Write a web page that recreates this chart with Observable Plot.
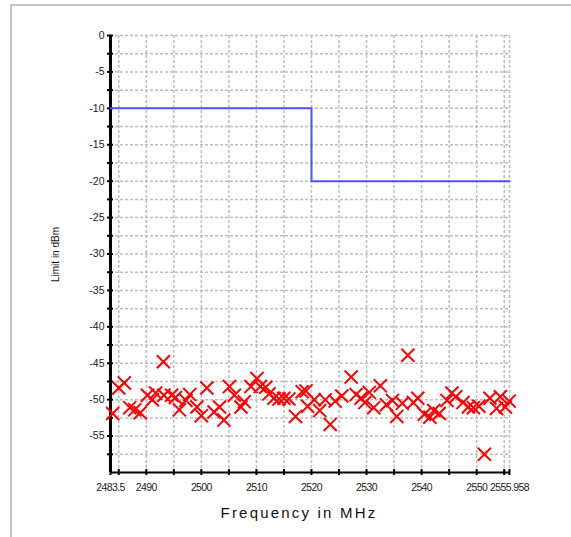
<!DOCTYPE html>
<html>
<head>
<meta charset="utf-8">
<script src="https://cdn.jsdelivr.net/npm/d3@7"></script>
<script src="https://cdn.jsdelivr.net/npm/@observablehq/plot@0.6"></script>
<style>
  html, body { margin: 0; padding: 0; background: #fff; overflow: hidden; }
  #wrap { position: relative; width: 571px; height: 537px; }
  #frame { position: absolute; left: 10px; top: 4px; width: 700px; height: 700px; border: 2px solid #c4c4c4; box-sizing: border-box; }
  #chart { position: absolute; left: 0; top: 0; }
</style>
</head>
<body>
<div id="wrap"><div id="frame"></div><div id="chart"></div></div>
<script>
// Limit line (step)
const limitFreq = [2483.5, 2520, 2555.958];
const limitValue = [-10, -20, -20];

// Measured spurious points
const measFreq = [
  2483.9, 2485.0, 2486.0, 2487.0, 2487.9, 2488.9, 2490.2, 2491.1, 2491.7, 2493.1,
  2493.2, 2494.6, 2495.3, 2496.0, 2497.2, 2497.9, 2499.2, 2500.0, 2501.0, 2502.3,
  2503.3, 2504.1, 2505.1, 2506.0, 2507.2, 2507.8, 2509.0, 2510.1, 2510.7, 2511.7,
  2512.3, 2513.2, 2514.1, 2515.0, 2515.9, 2517.1, 2518.3, 2519.0, 2519.3, 2520.5,
  2521.5, 2522.5, 2523.4, 2524.3, 2525.5, 2527.2, 2528.1, 2529.0, 2529.7, 2530.5,
  2531.3, 2532.5, 2533.6, 2534.7, 2535.5, 2536.5, 2537.5, 2538.5, 2539.3, 2540.5,
  2541.5, 2542.2, 2543.2, 2544.6, 2545.5, 2546.2, 2547.5, 2548.5, 2549.4, 2550.4,
  2551.4, 2552.4, 2553.6, 2554.3, 2555.2, 2555.9
];
const measValue = [
  -51.9, -48.4, -47.7, -51.1, -51.4, -51.8, -49.4, -50.0, -49.1, -44.8,
  -49.4, -49.4, -49.7, -51.4, -50.1, -49.3, -51.0, -52.2, -48.4, -51.7,
  -51.0, -52.8, -48.2, -49.4, -51.0, -50.3, -48.2, -47.1, -48.2, -48.3,
  -49.2, -49.8, -49.9, -49.8, -49.9, -52.3, -48.9, -48.8, -50.9, -50.0,
  -51.5, -50.0, -53.4, -50.2, -49.5, -46.9, -49.3, -49.8, -50.4, -49.0,
  -51.1, -48.1, -50.7, -50.1, -52.3, -50.5, -43.9, -50.4, -49.8, -52.0,
  -52.4, -51.5, -51.9, -50.1, -49.1, -49.6, -50.4, -51.0, -51.1, -50.9,
  -57.5, -49.8, -51.2, -49.6, -51.0, -50.2
];

// Axis ticks
const xTicks = [2483.5, 2485, 2490, 2495, 2500, 2505, 2510, 2515, 2520, 2525, 2530, 2535, 2540, 2545, 2550, 2555, 2555.958];
const xTickLabels = ["2483.5", "", "2490", "", "2500", "", "2510", "", "2520", "", "2530", "", "2540", "", "2550", "", "2555.958"];
const yTicks = [0, -2.5, -5, -7.5, -10, -12.5, -15, -17.5, -20, -22.5, -25, -27.5, -30, -32.5, -35, -37.5, -40, -42.5, -45, -47.5, -50, -52.5, -55, -57.5];
const yTickLabels = ["0", "", "-5", "", "-10", "", "-15", "", "-20", "", "-25", "", "-30", "", "-35", "", "-40", "", "-45", "", "-50", "", "-55", ""];

const xDomain = [2483.5, 2555.958];
const yDomain = [-60, 0];
const xTitle = "Frequency in MHz";
const yTitle = "Limit in dBm";

const limitData = limitFreq.map((f, i) => ({f, v: limitValue[i]}));
const measData = measFreq.map((f, i) => ({f, v: measValue[i]}));

const xLabelMap = new Map(xTicks.map((t, i) => [t, xTickLabels[i]]));
const yLabelMap = new Map(yTicks.map((t, i) => [t, yTickLabels[i]]));

const chart = Plot.plot({
  width: 571,
  height: 537,
  marginLeft: 110,
  marginRight: 62,
  marginTop: 35,
  marginBottom: 65,
  style: {fontFamily: "'Liberation Sans', Arial, sans-serif", background: "transparent", overflow: "visible"},
  x: {domain: xDomain, axis: null},
  y: {domain: yDomain, axis: null},
  marks: [
    Plot.gridX(xTicks.slice(1), {stroke: "#bdbdbd", strokeOpacity: 1, strokeDasharray: "3,2", strokeWidth: 1.5}),
    Plot.gridY(yTicks, {stroke: "#bdbdbd", strokeOpacity: 1, strokeDasharray: "3,2", strokeWidth: 1.5}),
    Plot.axisY(yTicks, {anchor: "left", tickSize: 6, dx: 3, tickPadding: 3, strokeWidth: 2, stroke: "#000",
      tickFormat: d => yLabelMap.get(d), fontSize: 10.5, fill: "#222", label: null}),
    Plot.axisX(xTicks, {anchor: "bottom", tickSize: 6, dy: -3, tickPadding: 8, strokeWidth: 2, stroke: "#000",
      tickFormat: d => xLabelMap.get(d), fontSize: 10.5, fill: "#222", label: null}),
    Plot.ruleX([xDomain[0]], {stroke: "#000", strokeWidth: 3}),
    Plot.ruleY([yDomain[0]], {stroke: "#000", strokeWidth: 2}),
    Plot.line(limitData, {x: "f", y: "v", curve: "step-after", stroke: "#5252ff", strokeWidth: 2}),
    Plot.dot(measData, {x: "f", y: "v", symbol: "times", r: 6, stroke: "#ff0000", strokeWidth: 2}),
    Plot.text([xTitle], {frameAnchor: "bottom", dx: -11, dy: 45, fontSize: 15, fill: "#111"}),
    Plot.text([yTitle], {frameAnchor: "left", rotate: -90, dx: -55, dy: 28, fontSize: 10, fill: "#111"})
  ]
});
d3.select(chart).selectAll("text").each(function() {
  const t = this.textContent;
  if (t === xTitle) d3.select(this).attr("letter-spacing", "2.2px");
  else if (/^-?\d/.test(t) && t.length >= 4) d3.select(this).attr("letter-spacing", "-0.6px");
});
document.getElementById("chart").appendChild(chart);
</script>
</body>
</html>
